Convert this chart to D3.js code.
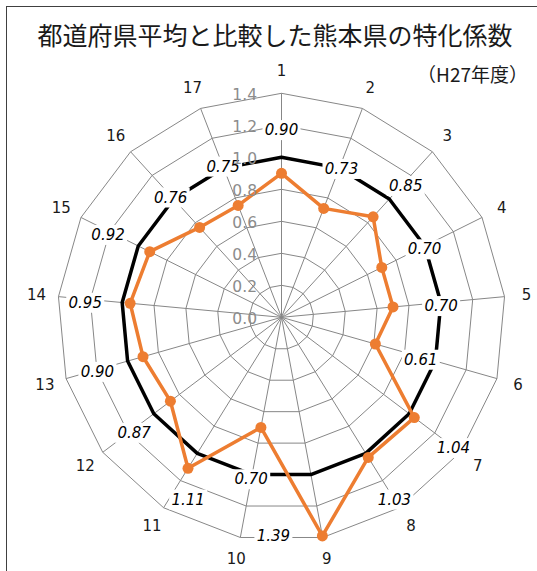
<!DOCTYPE html>
<html>
<head>
<meta charset="utf-8">
<script src="https://cdn.jsdelivr.net/npm/d3@7"></script>
<style>
  html, body { margin: 0; padding: 0; background: #fff; }
  svg { display: block; }
</style>
</head>
<body>
<svg id="chart" width="537" height="571"></svg>
<script>
// Industry categories 1..17
const categories = ["1","2","3","4","5","6","7","8","9","10","11","12","13","14","15","16","17"];
// Specialization coefficient of Kumamoto vs. prefectural average
const kumamoto = [0.90, 0.73, 0.85, 0.70, 0.70, 0.61, 1.04, 1.03, 1.39, 0.70, 1.11, 0.87, 0.90, 0.95, 0.92, 0.76, 0.75];
// Prefectural average (baseline = 1.0)
const average = categories.map(() => 1.0);
// Radial value axis ticks
const ticks = [0.0, 0.2, 0.4, 0.6, 0.8, 1.0, 1.2, 1.4];

// Where each value label sits (radius in axis units, angular shift in axis steps)
const labelRadius = [1.17, 1.0, 1.13, 0.99, 1.0, 0.91, 1.35, 1.34, 1.37, 1.03, 1.28, 1.17, 1.2, 1.23, 1.2, 1.02, 1.01];
const labelShift  = [0, 0.04, 0.05, 0.05, 0.06, 0.05, 0.01, 0, 0.6, 0, -0.22, -0.05, -0.03, -0.05, -0.05, -0.02, 0];

const svg = d3.select("#chart");
const W = 537, H = 571;
const cx = 281.5, cy = 317.3;
const r = d3.scaleLinear().domain([0, 1.4]).range([0, 224]);
const n = categories.length;
const ang = d3.scaleLinear().domain([0, n]).range([0, 2 * Math.PI]);

const px = (i, v) => cx + r(v) * Math.sin(ang(i));
const py = (i, v) => cy - r(v) * Math.cos(ang(i));

// outer frame
svg.append("rect")
  .attr("x", 6.5).attr("y", 6.5)
  .attr("width", W + 10).attr("height", H + 10)
  .attr("fill", "#fff").attr("stroke", "#404040").attr("stroke-width", 1);

// title
svg.append("text")
  .attr("x", 275).attr("y", 45)
  .attr("text-anchor", "middle")
  .attr("font-family", "'Noto Sans CJK JP', sans-serif")
  .attr("font-size", 25)
  .attr("fill", "#1a1a1a")
  .text("都道府県平均と比較した熊本県の特化係数");

svg.append("text")
  .attr("x", 528).attr("y", 82)
  .attr("text-anchor", "end")
  .attr("font-family", "'Noto Sans CJK JP', sans-serif")
  .attr("font-size", 19)
  .attr("fill", "#1a1a1a")
  .text("（H27年度）");

const grid = svg.append("g").attr("stroke", "#878787").attr("stroke-width", 1).attr("fill", "none");

// spider-web rings
const ring = d3.line().x(d => d[0]).y(d => d[1]).curve(d3.curveLinearClosed);
ticks.filter(t => t > 0).forEach(t => {
  grid.append("path").attr("d", ring(categories.map((c, i) => [px(i, t), py(i, t)])));
});
// spokes
categories.forEach((c, i) => {
  grid.append("line")
    .attr("x1", cx).attr("y1", cy)
    .attr("x2", px(i, 1.4)).attr("y2", py(i, 1.4));
});

// category labels around the outside
svg.append("g").selectAll("text").data(categories).join("text")
  .attr("x", (d, i) => cx + 246 * Math.sin(ang(i)))
  .attr("y", (d, i) => cy - 246 * Math.cos(ang(i)))
  .attr("text-anchor", "middle")
  .attr("dominant-baseline", "central")
  .attr("font-family", "'DejaVu Sans', Verdana, sans-serif")
  .attr("font-size", 15)
  .attr("fill", "#1a1a1a")
  .text(d => d);

const series = d3.line().x(d => d.x).y(d => d.y).curve(d3.curveLinearClosed);

// baseline polygon (1.0)
svg.append("path")
  .attr("d", series(average.map((v, i) => ({ x: px(i, v), y: py(i, v) }))))
  .attr("fill", "none")
  .attr("stroke", "#000")
  .attr("stroke-width", 3.5)
  .attr("stroke-linejoin", "round");

// Kumamoto polygon
const kPts = kumamoto.map((v, i) => ({ x: px(i, v), y: py(i, v), v }));
svg.append("path")
  .attr("d", series(kPts))
  .attr("fill", "none")
  .attr("stroke", "#ED7D31")
  .attr("stroke-width", 3.5)
  .attr("stroke-linejoin", "round");

svg.append("g").selectAll("circle").data(kPts).join("circle")
  .attr("cx", d => d.x).attr("cy", d => d.y)
  .attr("r", 5.5)
  .attr("fill", "#ED7D31");

// value labels with white backing
const lab = svg.append("g").selectAll("g").data(kumamoto).join("g")
  .attr("transform", (v, i) => {
    const a = ang(i + labelShift[i]);
    const rr = r(labelRadius[i]);
    return `translate(${cx + rr * Math.sin(a)},${cy - rr * Math.cos(a)})`;
  });
lab.append("rect")
  .attr("x", -19).attr("y", -10)
  .attr("width", 38).attr("height", 20)
  .attr("fill", "#fff");
lab.append("text")
  .attr("text-anchor", "middle")
  .attr("dominant-baseline", "central")
  .attr("font-family", "'DejaVu Sans', Verdana, sans-serif")
  .attr("font-style", "italic")
  .attr("font-size", 15)
  .attr("fill", "#000")
  .text(v => v.toFixed(2));

// value axis tick labels (drawn on top)
svg.append("g").selectAll("text").data(ticks).join("text")
  .attr("x", 257)
  .attr("y", d => cy - r(d) + 2)
  .attr("text-anchor", "end")
  .attr("dominant-baseline", "central")
  .attr("font-family", "'DejaVu Sans', Verdana, sans-serif")
  .attr("font-size", 15.5)
  .attr("fill", "#8c8c8c")
  .text(d => d.toFixed(1));
</script>
</body>
</html>
